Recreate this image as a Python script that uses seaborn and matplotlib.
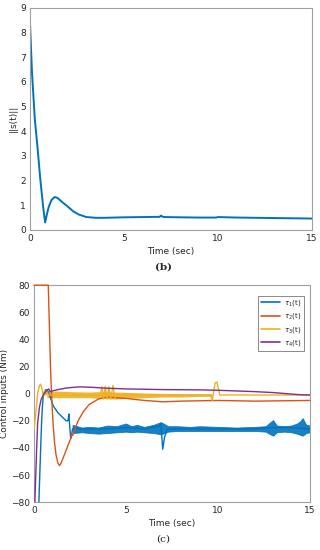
import matplotlib
matplotlib.use("Agg")
import matplotlib.pyplot as plt
import numpy as np
import seaborn as sns

sns.set_style("white")
plt.rcParams["font.family"] = ["DejaVu Sans"]
plt.rcParams["mathtext.fontset"] = "dejavusans"

# ---------------- (b) sliding surface norm ----------------
t_s = [0, 0.1, 0.25, 0.4, 0.55, 0.7, 0.8, 0.9, 1.0, 1.15, 1.3, 1.45, 1.6, 1.8,
       2.0, 2.1, 2.3, 2.6, 3.0, 3.5, 4.0, 5.0, 6.0, 6.9, 6.97, 7.05, 7.2, 8.0,
       9.0, 9.9, 10.0, 11.0, 12.0, 13.0, 14.0, 15.0]
s_norm = [8.3, 6.4, 4.5, 3.3, 2.0, 0.9, 0.3, 0.65, 0.95, 1.22, 1.33, 1.3, 1.2, 1.07,
          0.95, 0.88, 0.75, 0.62, 0.52, 0.49, 0.49, 0.51, 0.52, 0.53, 0.58, 0.53, 0.52, 0.51,
          0.5, 0.5, 0.52, 0.5, 0.49, 0.48, 0.47, 0.46]

# ---------------- (c) control inputs ----------------
t_1 = [0, 0.27, 0.33, 0.38, 0.42, 0.46, 0.5, 0.56, 0.65, 0.75, 0.85, 0.95, 1.05, 1.15,
       1.3, 1.45, 1.6, 1.75, 1.85, 1.9, 1.95, 2.0, 2.05, 2.1, 2.2, 2.5, 3.0, 4.0, 5.0,
       6.0, 6.8, 6.9, 7.0, 7.1, 7.25, 8.0, 9.0, 10.0, 11.0, 12.0, 13.0, 14.0, 15.0]
tau_1 = [-85, -80, -55, -35, -20, -10, -3, 1, 3, 2, -1, -5, -9, -11,
         -14, -16, -18, -20, -20, -15, -25, -33, -30, -26, -25, -26, -26, -26, -25,
         -26, -24, -22, -41, -32, -26, -26, -26, -26, -26, -26, -25, -25, -26]

# noise envelope of tau_1
t_1env = [2.1, 2.6, 3.0, 3.5, 4.0, 4.5, 5.0, 5.3, 5.6, 6.0, 6.5, 6.9, 7.3, 7.8,
          8.5, 9.0, 10.0, 11.0, 12.0, 12.6, 12.85, 13.0, 13.2, 13.6, 14.0, 14.3,
          14.5, 14.6, 14.8, 15.0]
tau_1_hi = [-23, -25, -24.5, -25, -23.5, -24, -22, -24, -23, -24.5, -23, -21, -24, -24,
            -24.5, -24, -24.5, -25, -24.5, -24, -21, -19.5, -23.5, -24, -23.5, -22,
            -20, -18, -23, -23.5]
tau_1_lo = [-29, -28.5, -29, -29.5, -29, -28.5, -28, -28.5, -28, -28.5, -29, -30, -28, -27.5,
            -27.5, -27.5, -27.5, -27.5, -27.5, -28, -30, -31, -28.5, -28, -28.5, -29.5,
            -30.5, -31, -29, -28.5]

t_2 = [0, 0.78, 0.85, 0.9, 0.95, 1.0, 1.05, 1.12, 1.2, 1.3, 1.38, 1.45, 1.6, 1.8,
       2.0, 2.05, 2.1, 2.4, 2.7, 3.0, 3.5, 4.0, 5.0, 6.0, 7.0, 8.0, 10.0, 12.0, 15.0]
tau_2 = [80, 80, 45, 20, 2, -12, -24, -36, -45, -51, -53, -52, -47, -40,
         -33, -30, -31, -20, -13, -8, -4, -2.5, -3.5, -5, -6, -5.5, -5, -5.5, -5]

t_3 = [0, 0.1, 0.2, 0.3, 0.36, 0.45, 0.5, 0.55, 0.6, 0.65, 0.7, 0.8, 1.0, 2.0, 3.0,
       3.6, 3.7, 3.78, 3.88, 3.97, 4.07, 4.17, 4.3, 4.4, 4.5, 6.0, 8.0, 9.6, 9.7,
       9.75, 9.85, 9.95, 10.05, 10.1, 11.0, 13.0, 15.0]
tau_3 = [-27, -15, 0, 6, 7, 3, -2, 1, 2, -1, 1.5, -1, -1, -1, -1,
         -1, 5, -4, 5.5, -4, 5, -4, 6, -3, -1, -1, -1, -1, -5,
         0, 8, 8.5, 2, -1, -1, -1, -1]

# chattering envelope of tau_3
t_3env = [0.7, 1.0, 2.0, 3.0, 3.5, 4.5, 5.0, 6.0, 7.0, 8.0, 9.0, 9.6, 9.7]
tau_3_hi = [2, 2, 1.5, 1.2, 1.5, 1.2, 1, 0.5, 0.2, 0, 0, 0, -0.5]
tau_3_lo = [-3, -3, -3, -3, -3.5, -4, -3.5, -3, -2.5, -2.5, -2, -2, -1.5]

t_4 = [0, 0.05, 0.1, 0.15, 0.2, 0.3, 0.4, 0.55, 0.7, 0.8, 0.88, 1.0, 1.3, 1.7,
       2.0, 2.5, 3.0, 4.0, 5.0, 7.0, 9.0, 10.0, 11.0, 12.0, 13.0, 14.0, 14.5, 15.0]
tau_4 = [-85, -80, -60, -40, -22, -10, -4, 0, 2.5, 3.5, 1.5, 2, 3, 4,
         4.5, 5, 4.8, 4, 3.5, 3, 2.8, 2.5, 2, 1.5, 0.8, -0.3, -0.8, -1]

labels = [r"$\tau_1$(t)", r"$\tau_2$(t)", r"$\tau_3$(t)", r"$\tau_4$(t)"]
colors = ["#0072BD", "#D95319", "#EDB120", "#7E2F8E"]

fig = plt.figure(figsize=(3.2, 5.5), dpi=100)
ax1 = fig.add_axes([0.094, 0.582, 0.881, 0.404])
ax2 = fig.add_axes([0.106, 0.087, 0.8625, 0.3945])


def style(ax):
    for sp in ax.spines.values():
        sp.set_color("#a0a0a0")
        sp.set_linewidth(0.8)
    ax.tick_params(direction="in", length=2, width=0.6, color="#a0a0a0",
                   labelsize=6.5, labelcolor="#262626", pad=3)
    ax.grid(False)


sns.lineplot(x=t_s, y=s_norm, ax=ax1, color=colors[0], linewidth=1.4)
ax1.set_xlim(0, 15)
ax1.set_ylim(0, 9)
ax1.set_xticks([0, 5, 10, 15])
ax1.set_yticks(range(0, 10))
ax1.set_xlabel("Time (sec)", fontsize=6.5, color="#262626", labelpad=3)
ax1.set_ylabel("||s(t)||", fontsize=6.5, color="#262626", labelpad=2)
style(ax1)

ax2.fill_between(t_1env, tau_1_lo, tau_1_hi, color=colors[0], alpha=0.9, lw=0.6,
                 edgecolor=colors[0])
ax2.fill_between(t_3env, tau_3_lo, tau_3_hi, color=colors[2], alpha=0.9, lw=0)
sns.lineplot(x=t_1, y=tau_1, ax=ax2, color=colors[0], linewidth=1.0, label=labels[0])
sns.lineplot(x=t_2, y=tau_2, ax=ax2, color=colors[1], linewidth=1.0, label=labels[1])
sns.lineplot(x=t_3, y=tau_3, ax=ax2, color=colors[2], linewidth=1.0, label=labels[2])
sns.lineplot(x=t_4, y=tau_4, ax=ax2, color=colors[3], linewidth=1.0, label=labels[3])
for ln in ax2.get_lines():
    ln.set_zorder(3)
# the saturated tau_2 segment sits on the top edge; keep it visible
ax2.get_lines()[1].set_clip_on(False)
ax2.set_xlim(0, 15)
ax2.set_ylim(-80, 80)
ax2.set_xticks([0, 5, 10, 15])
ax2.set_yticks(range(-80, 81, 20))
ax2.set_xlabel("Time (sec)", fontsize=6.5, color="#262626", labelpad=3)
ax2.set_ylabel("Control inputs (Nm)", fontsize=6.5, color="#262626", labelpad=1)
style(ax2)
leg = ax2.legend(loc="upper right", fontsize=5, handlelength=2.8, frameon=True,
                 fancybox=False, borderpad=0.4, labelspacing=0.45, handletextpad=0.5,
                 bbox_to_anchor=(0.99, 0.968))
leg.set_zorder(5)
leg.get_frame().set_edgecolor("#555555")
leg.get_frame().set_linewidth(0.6)
for line in leg.get_lines():
    line.set_linewidth(1.2)

fig.text(0.51, 0.514, "(b)", ha="center", va="center", fontsize=7.5,
         family="DejaVu Serif", fontweight="bold")
fig.text(0.51, 0.02, "(c)", ha="center", va="center", fontsize=7.5,
         family="DejaVu Serif")

fig.savefig("out.png", dpi=100)
